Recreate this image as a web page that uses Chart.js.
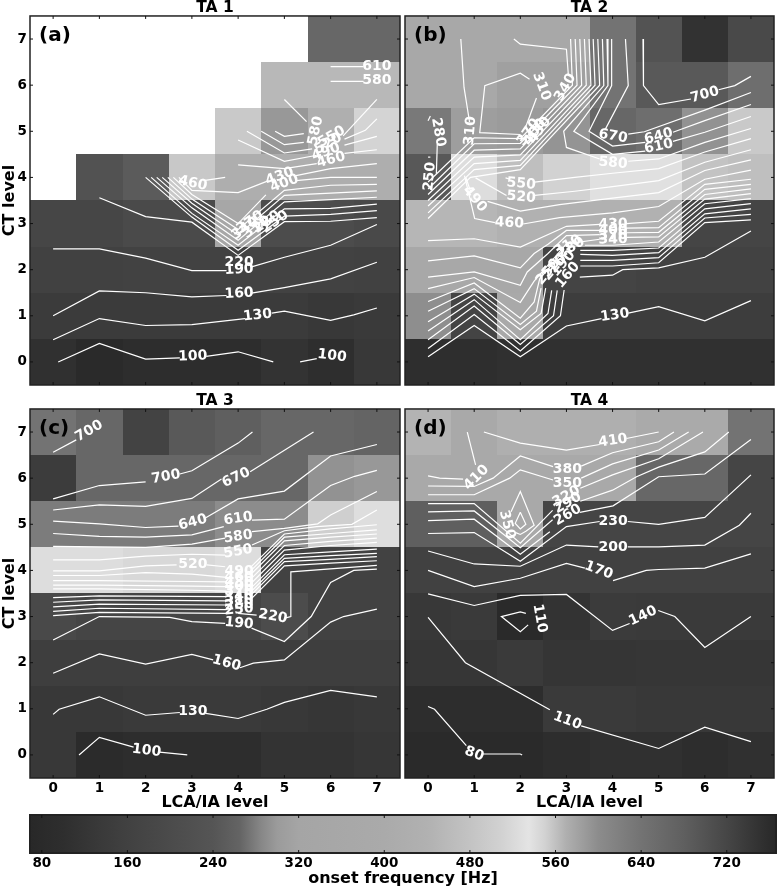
<!DOCTYPE html>
<html>
<head>
<meta charset="utf-8">
<title>Onset frequency maps</title>
<script src="https://cdn.jsdelivr.net/npm/chart.js@4"></script>
<style>
  body { margin: 0; background: #fff; }
  canvas { position: absolute; }
</style>
</head>
<body>
<canvas id="ta1" width="402" height="393" style="left:0;top:0"></canvas>
<canvas id="ta2" width="377" height="393" style="left:400px;top:0"></canvas>
<canvas id="ta3" width="402" height="419" style="left:0;top:393px"></canvas>
<canvas id="ta4" width="377" height="419" style="left:400px;top:393px"></canvas>
<canvas id="bar" width="777" height="78" style="left:0;top:810px"></canvas>
<script>
const levelTicks = [0, 1, 2, 3, 4, 5, 6, 7];
const onsetTicks = [80, 160, 240, 320, 400, 480, 560, 640, 720];
const titles = ['TA 1', 'TA 2', 'TA 3', 'TA 4'];
const letters = ['(a)', '(b)', '(c)', '(d)'];

// onset frequency [Hz] -> gray level
const barHz =   [69, 100, 130, 160, 200, 240, 265, 285, 300, 320, 400, 440, 480, 510, 535, 550, 570, 600, 640, 680, 720, 750, 766];
const barGray = [40, 46, 56, 65, 75, 85, 100, 135, 155, 165, 170, 177, 195, 210, 228, 210, 175, 140, 115, 95, 70, 50, 40];

// cells: row index = CT level, column index = LCA/IA level, Hz
const ta1Cells = [
  [105, 80, 95, 95, 95, 115, 100, 130],
  [140, 140, 140, 140, 140, 140, 130, 135],
  [160, 160, 165, 165, 165, 165, 165, 160],
  [180, 180, 195, 195, 350, 205, 205, 190],
  [null, 228, 250, 490, 420, 420, 420, 420],
  [null, null, null, null, 555, 590, 570, 548],
  [null, null, null, null, null, 565, 565, 565],
  [null, null, null, null, null, null, 665, 665]
];
const ta2Cells = [
  [100, 100, 105, 105, 105, 105, 105, 105],
  [290, 170, 380, 145, 145, 145, 145, 145],
  [360, 360, 360, 170, 170, 165, 165, 165],
  [450, 450, 440, 440, 440, 440, 175, 175],
  [245, 525, 470, 510, 530, 530, 480, 470],
  [630, 305, 300, 295, 665, 650, 595, 555],
  [370, 370, 310, 310, 640, 690, 690, 650],
  [370, 370, 370, 370, 640, 700, 750, 715]
];
const ta3Cells = [
  [130, 85, 95, 95, 95, 115, 115, 125],
  [130, 130, 135, 135, 135, 130, 125, 130],
  [150, 150, 150, 150, 150, 150, 150, 150],
  [190, 175, 175, 175, 175, 205, 165, 165],
  [525, 525, 518, 518, 525, 165, 165, 165],
  [625, 625, 625, 625, 600, 600, 552, 540],
  [735, 665, 665, 665, 665, 665, 595, 590],
  [640, 665, 725, 690, 680, 665, 665, 670]
];
const ta4Cells = [
  [80, 80, 80, 95, 105, 105, 95, 105],
  [95, 95, 95, 135, 135, 130, 130, 130],
  [125, 125, 135, 120, 120, 125, 125, 125],
  [130, 135, 80, 115, 140, 135, 135, 135],
  [160, 160, 160, 160, 160, 160, 160, 160],
  [680, 680, 380, 175, 175, 175, 175, 175],
  [380, 380, 380, 380, 380, 665, 665, 175],
  [445, 380, 430, 430, 430, 400, 400, 640]
];

// contour pieces, [LCA/IA, CT], broken where a label sits
const ta1Lines = [
  [[0.11,0],[1,0.40],[2,0.06],[2.74,0.09]], [[3.31,0.12],[4,0.22],[4.76,0]],
  [[5.34,0],[5.7,0.07]],
  [[0,0.48],[1,0.94],[2,0.79],[3,0.81],[4.15,0.94]], [[4.73,1.06],[5,1.10],[6,0.90],[6.5,1.02],[7,1.17]],
  [[0,1],[1,1.54],[2,1.5],[3,1.41],[3.75,1.44]], [[4.29,1.49],[5,1.61],[6,1.8],[7,2.16]],
  [[0,2.45],[1,2.45],[2,2.25],[3,1.98],[3.75,1.98]], [[4.29,2.06],[5,2.27],[6,2.53],[7,2.98]],
  [[1,3.56],[2,3.15],[3,3.03],[4,2.31],[5,3.04],[6,3.05],[7,3.13]],
  [[2,4],[3,3.14],[4,2.42],[5,3.16],[6,3.2],[7,3.28]],
  [[2.12,4],[3,3.22],[4,2.53],[5,3.32],[6,3.33],[7,3.42]],
  [[2.24,4],[3,3.34],[4,2.64],[5,3.47],[6,3.52],[7,3.57]],
  [[2.36,4],[3,3.44],[4,2.75],[5,3.61],[6,3.66],[7,3.71]],
  [[2.48,4],[3,3.53],[4,2.87],[5,3.72],[6,3.83],[7,3.85]],
  [[2.6,4],[3,3.63],[4,3.0],[4.6,3.62]], [[5.25,3.93],[6,4.0],[7,4.0]],
  [[2.72,4],[3,3.72],[4,3.67],[4.66,3.93]], [[5.25,4.04],[6,4.19],[7,4.3]],
  [[3.25,3.93],[3.72,4.0]],
  [[4,4.27],[5,4.19],[5.7,4.3]], [[6.3,4.52],[7,4.6]],
  [[4,4.81],[5,4.35],[5.7,4.48]], [[6.3,4.7],[7,4.89]],
  [[4.19,5],[5,4.53],[5.6,4.62]], [[6.3,4.83],[6.75,5.02],[7,5.27]],
  [[4.5,5],[5,4.71],[5.42,4.76]], [[6.27,4.9],[7,5.69]],
  [[4.8,5],[5,4.89],[5.42,4.95]],
  [[5,5.69],[5.48,5.21]],
  [[6,6.08],[6.71,6.08]],
  [[6,6.4],[6.71,6.4]]
];
const ta2Lines = [
  [[0,0.11],[1,0.79],[2,0.11],[3,0.78],[3.76,0.94]], [[4.34,1.06],[5,1.2],[6,0.89],[7,1.33]],
  [[0,0.29],[1,1.03],[2,0.24],[2.87,1.0],[2.95,1.56]], [[3.29,1.84],[4,1.88],[4.22,2.0],[5,2.04],[6,2.27],[7,2.84]],
  [[0,0.48],[1,1.21],[2,0.38],[2.72,1.0],[2.8,1.55]], [[3.3,2.08],[4,2.08],[5,2.15],[6,3.02],[7,3.08]],
  [[0,0.67],[1,1.35],[2,0.48],[2.6,1.05],[2.68,1.55]], [[3.3,2.2],[4,2.2],[5,2.26],[6,3.12],[7,3.2]],
  [[0,0.87],[1,1.47],[2,0.7],[2.45,1.05],[2.55,1.6]], [[3.3,2.33],[4,2.31],[5,2.37],[6,3.21],[7,3.32]],
  [[0,1.1],[1,1.59],[2,0.81],[2.35,1.1],[2.45,1.6]], [[3.3,2.42],[4,2.42],[5,2.47],[6,3.32],[7,3.43]],
  [[0,1.31],[1,1.71],[2,0.95],[2.3,1.3],[2.42,1.8],[2.85,2.3]], [[3.4,2.53],[4,2.53],[5,2.6],[6,3.43],[7,3.54]],
  [[0,1.59],[1,1.83],[2,1.29],[2.3,1.75],[2.6,2.1],[3,2.56],[3.72,2.66]], [[4.3,2.7],[5,2.71],[6,3.53],[7,3.65]],
  [[0,1.84],[1,1.95],[2,1.66],[2.15,1.95],[2.6,2.35],[3,2.74],[3.72,2.76]], [[4.3,2.8],[5,2.81],[6,3.63],[7,3.75]],
  [[0,2.19],[1,2.3],[2,2.04],[2.3,2.35],[2.6,2.55],[3,2.85],[3.72,2.85]], [[4.3,2.9],[5,2.91],[6,3.74],[7,3.85]],
  [[0,2.63],[1,2.67],[2,2.49],[3,2.94],[3.72,2.98]], [[4.3,3.0],[5,3.05],[6,3.85],[7,3.96]],
  [[0.79,4.04],[1.01,3.11],[1.45,3.02]], [[2.06,2.99],[2.85,3.13],[4,3.23],[5,3.37],[6,3.96],[7,4.16]],
  [[0.82,4.0],[0.92,3.7]], [[1.29,3.48],[2,3.27],[2.85,3.41],[4,3.55],[5,3.67],[6,4.15],[7,4.38]],
  [[1.03,3.99],[1.7,3.61]], [[2.31,3.61],[3.18,3.7],[4,3.8],[5,3.93],[6,4.33],[7,4.6]],
  [[1.68,3.99],[1.75,3.97]], [[2.31,3.9],[3.18,4.0],[4,4.09],[5,4.19],[6,4.55],[7,4.84]],
  [[3.09,7],[3.13,6],[2,4.84],[1,4.86],[0,3.9]],
  [[3.19,7],[3.23,6],[2,4.74],[1,4.73],[0,3.75]],
  [[3.29,7],[3.33,6],[2,4.62],[1,4.59],[0,3.63]],
  [[3.39,7],[3.43,6],[2,4.49],[1,4.44],[0,3.5]],
  [[3.49,7],[3.53,6],[2,4.37],[1,4.3],[0,3.38]],
  [[3.58,7],[3.62,6],[2,4.26],[1,4.17],[0,3.23]],
  [[3.68,7],[3.72,6],[2,4.17],[0.92,4.0],[0,3.11]],
  [[3.78,7],[3.81,5.99],[2.94,5],[3,4.65],[3.72,4.4]], [[4.34,4.35],[5,4.4],[6,4.76],[7,5.06]],
  [[3.88,7],[3.9,5.99],[3.16,5],[4,4.5],[4.71,4.57]], [[5.31,4.78],[6,4.98],[7,5.32]],
  [[3.98,7],[3.98,5.99],[3.49,5],[4,4.68],[4.71,4.76]], [[5.31,4.98],[6,5.23],[7,5.58]],
  [[4.28,7],[4.34,5.99],[3.83,5.02]], [[4.34,4.94],[4.69,4.99],[6,5.46],[7,5.84]],
  [[4.66,7],[4.67,5.99],[5.0,5.58],[5.7,5.7]], [[6.3,5.9],[6.65,5.99],[7,6.19]],
  [[1.86,7],[2,6.89],[3,6.78],[3.04,6.24]],
  [[0.71,7],[0.78,5.95],[0.9,5.2]],
  [[2.2,6.13],[2,6.26],[1.23,5.99],[1.12,4.97],[2,4.93]],
  [[2.35,5.72],[2.1,5.05]],
  [[0.05,5.33],[0,5.23]], [[0.2,4.73],[0.18,4.08]],
  [[0,4.44],[0.05,4.44]]
];
const ta3Lines = [
  [[0.56,0],[1,0.38],[1.74,0.17]], [[2.3,0.06],[2.9,0]],
  [[0,0.88],[0.13,0.99],[1,1.26],[2,0.86],[2.74,0.92]], [[3.3,0.9],[4,0.79],[4.62,0.99],[5,1.14],[6,1.4],[7,1.26]],
  [[0,1.77],[1,2.19],[2,1.97],[3,2.18],[3.46,2.06]], [[4.04,1.89],[4.33,1.99],[5,2.06],[6,2.88],[6.28,3],[7,3.16]],
  [[0,2.49],[1,3],[2.52,2.98],[3,2.89],[3.72,2.85]], [[4.29,2.75],[5,2.46],[5.58,3],[6,3.74],[6.5,4],[7,4.03]],
  [[0,3.02],[1,3.09],[3.75,3.07]], [[4.0,3.07],[4.4,3.03]], [[5.03,2.97],[5.14,3],[5.14,3.97],[7,4.11]],
  [[0,3.11],[1,3.18],[3.75,3.15]], [[4.25,3.35],[5,4.1],[6,4.16],[7,4.21]],
  [[0,3.21],[1,3.27],[3.75,3.25]], [[4.25,3.44],[5,4.19],[6,4.24],[7,4.3]],
  [[0,3.31],[1,3.36],[3.75,3.34]], [[4.25,3.51],[5,4.26],[6,4.32],[7,4.37]],
  [[0,3.41],[1,3.45],[3.75,3.43]], [[4.25,3.59],[5,4.34],[6,4.4],[7,4.46]],
  [[0,3.6],[1,3.6],[3,3.57],[3.75,3.55]], [[4.25,3.69],[5,4.44],[6,4.54],[7,4.61]],
  [[0,3.68],[1,3.68],[3,3.66],[3.75,3.65]], [[4.25,3.79],[5,4.54],[6,4.63],[7,4.7]],
  [[0,3.78],[1,3.78],[3,3.76],[3.75,3.75]], [[4.25,3.89],[5,4.64],[6,4.72],[7,4.79]],
  [[0,3.89],[1,3.89],[2,3.95],[3,3.92],[3.75,3.85]], [[4.25,3.97],[5,4.72],[6,4.8],[7,4.88]],
  [[0,3.99],[1,3.99],[2,4.1],[2.67,4.12]], [[3.32,4.12],[3.72,4.08]], [[4.25,4.05],[5,4.79],[6,4.9],[7,4.99]],
  [[0,4.23],[1,4.23],[2,4.31],[3,4.35],[3.72,4.33]], [[4.3,4.55],[5,4.86],[5.7,4.95],[6.46,5],[7,5.31]],
  [[0,4.52],[2,4.5],[3,4.57],[3.72,4.7]], [[4.3,4.84],[5,4.91],[5.72,5.01],[6,5.2],[7,5.71]],
  [[0,4.8],[1,4.74],[2,4.72],[3,4.77],[3.69,4.95]], [[4.3,5.09],[5,5.11],[6,5.84],[6.52,6.04],[7,6.17]],
  [[0,5.07],[1,5.01],[2,4.93],[2.71,4.96]], [[3.3,5.14],[4,5.55],[5,5.72],[6,6.48],[7,6.73]],
  [[0,5.31],[1,5.42],[2,5.39],[3,5.56],[3.64,5.98]], [[4.26,6.14],[5.63,7]],
  [[0,5.55],[1,5.84],[2,5.92]], [[2.74,6.09],[3,6.16],[4,6.76],[4.31,7]],
  [[0,6.56],[0.5,6.83]]
];
const ta4Lines = [
  [[0,1.05],[0.14,0.99],[0.83,0.2]], [[1.19,0.02],[2,0.02],[2.04,0]],
  [[0,2.98],[0.81,2],[2.64,0.98]], [[3.32,0.63],[5,0.14],[6,0.6],[7,0.29]],
  [[2.12,3.07],[2,3.1],[1.59,3],[2,2.67],[2.17,2.82]],
  [[0,3.49],[1,3.24],[2,3.46],[3,3.48],[4,2.7],[4.37,2.85]], [[4.99,3.13],[5.35,3],[6,2.33],[7,3.0]],
  [[0,4.0],[1,3.65],[2,3.83],[3,4.15],[3.4,4.05]], [[4.01,3.78],[4.73,4],[5,4.02],[6,4.05],[7,4.36]],
  [[0,4.42],[1,4.14],[2,4.09],[3,4.55],[3.69,4.51]], [[4.33,4.51],[5,4.51],[6,4.55],[6.75,4.98],[7,5.24]],
  [[0,4.8],[1,4.82],[2,4.2],[3,4.95],[3.72,5.06]], [[4.33,5.06],[5,5],[6,5.15],[7,6.07]],
  [[0,5.08],[1,5.11],[2,4.35],[2.64,4.84]], [[3.29,5.26],[4.01,5.4],[5,6.03],[6,6.09],[7,6.84]],
  [[0,5.27],[1,5.29],[2,4.49],[2.7,5.1]], [[3.3,5.5],[4,5.74],[4.52,6.03],[5,6.24],[6,6.57],[6.52,7]],
  [[0,5.45],[1,5.45],[2,4.59],[2.7,5.3]], [[3.3,5.78],[4,6.07],[5,6.42],[5.96,7]],
  [[0,5.64],[1,5.64],[1.77,6],[2,6.18],[2.71,5.96]], [[3.32,6],[4,6.31],[5,6.61],[5.65,7]],
  [[0,5.83],[1,5.82],[1.41,6],[2,6.48],[2.71,6.25]], [[3.32,6.26],[4,6.55],[5,6.79],[5.33,7]],
  [[0,6.05],[0.25,6],[0.76,5.98]],
  [[0.85,7],[1.03,6.29]],
  [[1.21,7],[2,6.76],[3,6.61],[3.72,6.73]], [[4.3,6.86],[5,7]],
  [[1.8,5.27],[2,5.71],[2.3,4.98],[2.12,4.85],[2,4.78],[1.9,4.82]],
  [[2,5.26],[2.12,5.0],[2,4.9],[1.89,5.02],[2,5.26]]
];

// contour labels: text, LCA/IA, CT, rotation in degrees
const ta1Labels = [
  ['100',3.02,0.12,-2], ['100',6.03,0.13,7], ['130',4.42,1.01,-6], ['160',4.02,1.48,-3],
  ['190',4.02,2.0,-3], ['220',4.02,2.16,0], ['340',4.15,2.89,-35], ['370',4.26,3.03,-35],
  ['310',4.4,2.92,-35], ['280',4.62,3.03,-35], ['250',4.8,3.03,-35], ['400',5,3.87,-20],
  ['430',4.9,4.02,-20], ['460',6.01,4.38,-15], ['490',5.9,4.55,-20], ['520',5.95,4.73,-30],
  ['550',6.02,4.88,-30], ['580',5.68,5.01,-78], ['460',3.02,3.87,12], ['580',7,6.1,0], ['610',7,6.41,0]
];
const ta2Labels = [
  ['430',4.01,2.98,-1], ['400',4.01,2.85,-1], ['370',4.01,2.74,-1], ['340',4.01,2.65,-1],
  ['310',3.03,2.52,-30], ['280',3.1,2.47,-30], ['250',2.6,1.95,-50], ['220',2.75,2.05,-50],
  ['190',2.93,2.13,-50], ['160',3.03,1.88,-50], ['130',4.05,1.01,-8], ['460',1.76,3.01,3],
  ['490',1.01,3.53,50], ['520',2.02,3.57,5], ['550',2.02,3.86,5], ['580',4.01,4.31,5],
  ['610',5,4.67,-12], ['640',5,4.89,-15], ['670',4.01,4.89,10], ['700',6,5.79,-15],
  ['340',2.98,5.95,-60], ['310',0.92,5.01,-85], ['310',2.46,5.97,70], ['280',0.22,4.98,80],
  ['250',0.04,4.02,-85], ['370',2.18,4.98,-55], ['400',2.32,4.98,-55], ['430',2.42,5.02,-55]
];
const ta3Labels = [
  ['190',4.02,2.85,5], ['220',4.75,3.0,10], ['160',3.75,1.99,15], ['130',3.02,0.95,0],
  ['100',2.02,0.09,7], ['700',0.78,7.02,-30], ['700',2.44,6.03,-10], ['670',3.96,6.01,-25],
  ['640',3.02,5.04,-15], ['610',4,5.12,-8], ['580',4,4.73,-8], ['550',4,4.41,-10], ['520',3.02,4.13,0],
  ['490',4.02,3.99,0], ['460',4.02,3.85,0], ['430',4.02,3.75,0], ['400',4.02,3.65,0], ['370',4.02,3.55,0],
  ['340',4.02,3.43,-5], ['310',4.02,3.34,-5], ['280',4.02,3.25,-5], ['250',4.02,3.15,-5]
];
const ta4Labels = [
  ['80',1,0.02,20], ['110',3.02,0.74,20], ['110',2.42,2.96,80], ['140',4.66,3.01,-25],
  ['170',3.7,4.0,20], ['200',4.01,4.5,0], ['230',4.01,5.07,0], ['260',3.03,5.2,-30],
  ['290',3.03,5.46,-30], ['320',3,5.6,-30], ['350',3.02,5.89,0], ['380',3.02,6.19,0],
  ['410',1.05,6.01,-45], ['410',4.01,6.81,-8], ['350',1.71,4.99,75]
];

function grayOf(hz) {
  let i = 1;
  while (i < barHz.length - 1 && barHz[i] < hz) i++;
  const t = (hz - barHz[i - 1]) / (barHz[i] - barHz[i - 1]);
  return Math.round(barGray[i - 1] + t * (barGray[i] - barGray[i - 1]));
}
function grayFor(hz) {
  const g = grayOf(hz);
  return `rgb(${g},${g},${g})`;
}

function drawTicks(chart, len) {
  const { ctx, chartArea: a, scales } = chart;
  ctx.save();
  ctx.strokeStyle = '#111';
  ctx.lineWidth = 1;
  ctx.beginPath();
  scales.x.ticks.forEach(t => {
    const px = scales.x.getPixelForValue(t.value);
    ctx.moveTo(px, a.bottom); ctx.lineTo(px, a.bottom - len);
    ctx.moveTo(px, a.top); ctx.lineTo(px, a.top + len);
  });
  if (scales.y.options.display) {
    scales.y.ticks.forEach(t => {
      const py = scales.y.getPixelForValue(t.value);
      ctx.moveTo(a.left, py); ctx.lineTo(a.left + len, py);
      ctx.moveTo(a.right, py); ctx.lineTo(a.right - len, py);
    });
  }
  ctx.stroke();
  ctx.restore();
}

// cells under the contours, labels and frame on top
const heatPlugin = {
  id: 'heat',
  beforeDatasetsDraw(chart, args, opts) {
    const { ctx, scales: { x, y } } = chart;
    opts.cells.forEach((row, cy) => row.forEach((hz, cx) => {
      if (hz === null) return;
      const x0 = Math.round(x.getPixelForValue(cx - 0.5));
      const x1 = Math.round(x.getPixelForValue(cx + 0.5));
      const y0 = Math.round(y.getPixelForValue(cy + 0.5));
      const y1 = Math.round(y.getPixelForValue(cy - 0.5));
      ctx.fillStyle = grayFor(hz);
      ctx.fillRect(x0, y0, x1 - x0, y1 - y0);
    }));
  },
  afterDatasetsDraw(chart, args, opts) {
    const { ctx, chartArea: a, scales: { x, y } } = chart;
    ctx.save();
    ctx.fillStyle = '#fff';
    ctx.font = 'bold 14px "DejaVu Sans"';
    ctx.textAlign = 'center';
    ctx.textBaseline = 'middle';
    opts.labels.forEach(([text, lx, ly, rot]) => {
      ctx.save();
      ctx.translate(x.getPixelForValue(lx), y.getPixelForValue(ly));
      ctx.rotate(rot * Math.PI / 180);
      ctx.fillText(text, 0, 0);
      ctx.restore();
    });
    ctx.fillStyle = '#000';
    ctx.font = 'bold 20px "DejaVu Sans"';
    ctx.textAlign = 'left';
    ctx.fillText(opts.letter, a.left + 9, a.top + 20);
    ctx.strokeStyle = '#222';
    ctx.lineWidth = 1.5;
    ctx.strokeRect(a.left, a.top, a.width, a.height);
    ctx.restore();
    drawTicks(chart, 3);
  }
};

const barPlugin = {
  id: 'colorStrip',
  beforeDatasetsDraw(chart) {
    const { ctx, chartArea: a, scales: { x } } = chart;
    const strip = ctx.createLinearGradient(a.left, 0, a.right, 0);
    barHz.forEach(hz => {
      strip.addColorStop((x.getPixelForValue(hz) - a.left) / a.width, grayFor(hz));
    });
    ctx.fillStyle = strip;
    ctx.fillRect(a.left, a.top, a.width, a.height);
  },
  afterDatasetsDraw(chart) {
    const { ctx, chartArea: a } = chart;
    ctx.save();
    ctx.strokeStyle = '#222';
    ctx.lineWidth = 2;
    ctx.strokeRect(a.left, a.top, a.width, a.height);
    ctx.restore();
    drawTicks(chart, 3);
  }
};

const boldFont = size => ({ family: '"DejaVu Sans"', weight: 'bold', size: size });

function makePanel(id, index, cells, lines, labels, showX, showY) {
  new Chart(document.getElementById(id), {
    type: 'scatter',
    data: {
      datasets: lines.map(piece => ({
        data: piece.map(p => ({ x: p[0], y: p[1] })),
        showLine: true,
        pointRadius: 0,
        borderColor: '#fff',
        borderWidth: 1.2
      }))
    },
    plugins: [heatPlugin],
    options: {
      responsive: false,
      animation: false,
      layout: { autoPadding: false, padding: { left: showY ? 0 : 5, right: showY ? 2 : 3 } },
      plugins: {
        legend: { display: false },
        tooltip: { enabled: false },
        title: {
          display: true, text: titles[index], color: '#000', fullSize: false,
          font: { family: '"DejaVu Sans"', weight: 'bold', size: 15.5, lineHeight: 1.03 },
          padding: 0
        },
        heat: { cells: cells, labels: labels, letter: letters[index] }
      },
      scales: {
        x: {
          type: 'linear', min: -0.5, max: 7.5,
          grid: { display: false, drawTicks: false }, border: { display: false },
          afterBuildTicks: s => { s.ticks = levelTicks.map(v => ({ value: v })); },
          afterFit: s => { s.height = showX ? 34 : 8; },
          ticks: { display: showX, color: '#000', font: boldFont(13.5), padding: 2, maxRotation: 0, callback: v => v },
          title: { display: showX, text: 'LCA/IA level', color: '#000', font: boldFont(16), padding: 0 }
        },
        y: {
          type: 'linear', min: -0.5, max: 7.5,
          grid: { display: false, drawTicks: false }, border: { display: false },
          afterBuildTicks: s => { s.ticks = levelTicks.map(v => ({ value: v })); },
          afterFit: s => { s.width = showY ? 30 : 0; s.paddingTop = 0; s.paddingBottom = 0; },
          ticks: { display: showY, color: '#000', font: boldFont(13.5), padding: 3, callback: v => v },
          title: { display: showY, text: 'CT level', color: '#000', font: boldFont(16), padding: 0 }
        }
      }
    }
  });
}

makePanel('ta1', 0, ta1Cells, ta1Lines, ta1Labels, false, true);
makePanel('ta2', 1, ta2Cells, ta2Lines, ta2Labels, false, false);
makePanel('ta3', 2, ta3Cells, ta3Lines, ta3Labels, true, true);
makePanel('ta4', 3, ta4Cells, ta4Lines, ta4Labels, true, false);

new Chart(document.getElementById('bar'), {
  type: 'scatter',
  data: { datasets: [{ data: [], pointRadius: 0 }] },
  plugins: [barPlugin],
  options: {
    responsive: false,
    animation: false,
    layout: { autoPadding: false, padding: { left: 30, right: 1, top: 5 } },
    plugins: { legend: { display: false }, tooltip: { enabled: false } },
    scales: {
      x: {
        type: 'linear', min: barHz[0], max: barHz[barHz.length - 1],
        grid: { display: false, drawTicks: false }, border: { display: false },
        afterBuildTicks: s => { s.ticks = onsetTicks.map(v => ({ value: v })); },
        afterFit: s => { s.height = 35; },
        ticks: { color: '#000', font: boldFont(13.5), padding: 2, maxRotation: 0, callback: v => v },
        title: { display: true, text: 'onset frequency [Hz]', color: '#000', font: boldFont(16), padding: 0 }
      },
      y: { display: false, min: 0, max: 1 }
    }
  }
});
</script>
</body>
</html>
